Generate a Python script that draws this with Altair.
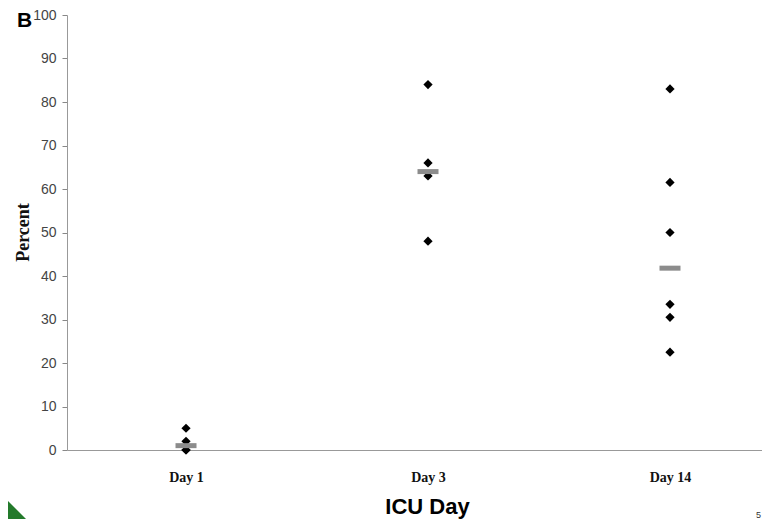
import altair as alt
import pandas as pd

days = ["Day 1", "Day 3", "Day 14"]
day1 = [5, 2, 0, 0]
day3 = [84, 66, 63, 48]
day14 = [83, 61.5, 50, 33.5, 30.5, 22.5]
medians = [1, 64, 41.8]
y_ticks = list(range(0, 101, 10))

rows = []
for d, vals in zip(days, [day1, day3, day14]):
    for v in vals:
        rows.append({"day": d, "pct": v})
pts = pd.DataFrame(rows)
med = pd.DataFrame({"day": days, "pct": medians})

xscale = alt.Scale(type="point", domain=days, padding=0.436, align=0.564)
yscale = alt.Scale(domain=[0, 100], nice=False)

xaxis = alt.Axis(
    title="ICU Day", titleFont="Liberation Sans", titleFontSize=22, titleFontWeight="bold",
    titleColor="#000", titleX=360, titleY=63, titleAlign="center", titleBaseline="alphabetic",
    labelFont="Liberation Serif", labelFontSize=14, labelFontWeight="bold", labelColor="#111",
    labelAngle=0, labelBaseline="alphabetic", labelPadding=31, ticks=False, tickSize=0,
    domainColor="#999", domainWidth=1.2, grid=False,
)
yaxis = alt.Axis(
    title="Percent", titleFont="Liberation Serif", titleFontSize=18, titleFontWeight="bold",
    titleColor="#111", titleAngle=-90, titleX=-39, titleY=217, titleAlign="center",
    titleBaseline="alphabetic",
    values=y_ticks, labelFont="Liberation Sans", labelFontSize=14, labelColor="#444",
    labelPadding=6, tickSize=5, tickColor="#888", domainColor="#999", grid=False,
)

points = alt.Chart(pts).mark_point(shape="diamond", filled=True, color="#000", size=85, opacity=1).encode(
    x=alt.X("day:N", scale=xscale, axis=xaxis, sort=days),
    y=alt.Y("pct:Q", scale=yscale, axis=yaxis),
)
bars = alt.Chart(med).mark_tick(color="#8c8c8c", size=21, thickness=5, orient="horizontal", opacity=1).encode(
    x=alt.X("day:N", scale=xscale, sort=days),
    y=alt.Y("pct:Q", scale=yscale),
)

label_b = alt.Chart(pd.DataFrame({"t": ["B"]})).mark_text(
    font="Liberation Sans", fontSize=21, fontWeight="bold", align="left", baseline="alphabetic", color="#000"
).encode(x=alt.value(-50), y=alt.value(12), text="t:N")

page_no = alt.Chart(pd.DataFrame({"t": ["5"]})).mark_text(
    font="Liberation Sans", fontSize=9, align="right", baseline="alphabetic", color="#333"
).encode(x=alt.value(694), y=alt.value(503), text="t:N")

corner = alt.Chart(pd.DataFrame({"t": ["g"]})).mark_point(
    shape="M-1,-1 L1,1 L-1,1 Z", filled=True, color="#237a2b", size=1156, opacity=1
).encode(x=alt.value(-50), y=alt.value(495))

chart = alt.layer(points, bars, label_b, page_no, corner).properties(
    width=695, height=435,
    background="white",
    autosize=alt.AutoSizeParams(type="none"),
    padding={"left": 59, "top": 7, "right": 0, "bottom": 69},
).configure_view(stroke="transparent", strokeWidth=0)

chart.save("out.html", embed_options={"renderer": "svg", "actions": False})
